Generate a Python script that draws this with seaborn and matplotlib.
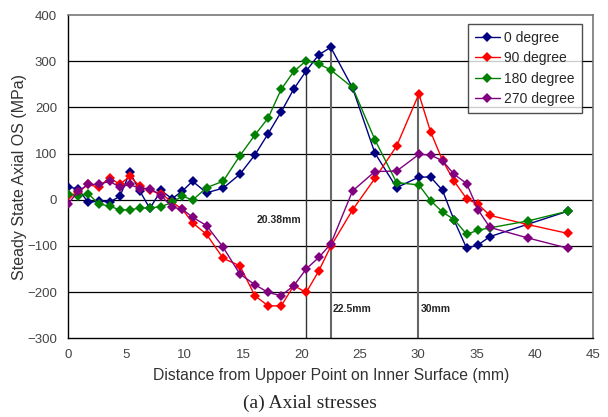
import matplotlib
matplotlib.use("Agg")
import matplotlib.pyplot as plt
import seaborn as sns
import numpy as np
import pandas as pd

# distance along inner surface (mm)
distance = [0, 0.86, 1.71, 2.63, 3.55, 4.43, 5.29, 6.14, 7.0, 7.97, 8.9, 9.8,
            10.66, 11.86, 13.28, 14.71, 16.0, 17.14, 18.25, 19.34, 20.4, 21.48,
            22.5, 24.37, 26.28, 28.14, 30.05, 31.05, 32.08, 33.07, 34.14, 35.12,
            36.13, 39.4, 42.8]

deg0 = [27, 24, -6, -3, -5, 7, 59, 19, -19, 20, 2, 19, 40, 15, 25, 55, 97, 143,
        190, 240, 279, 314, 330, 242, 101, 26, 49, 49, 20, -45, -105, -98, -80,
        np.nan, -25]
deg90 = [7, 16, 33, 27, 48, 33, 51, 29, 20, 13, -5, -21, -50, -75, -127, -143,
         -208, -230, -230, -186, -201, -154, -101, -22, 46, 116, 229, 147, 85, 40,
         2, -10, -34, -54, -73]
deg180 = [13, 7, 13, -9, -14, -22, -22, -18, -18, -15, -6, 8, -1, 26, 40, 95, 140,
          177, 239, 278, 301, 294, 281, 243, 130, 37, 32, -2, -27, -43, -75, -66,
          -61, -46, -25]
deg270 = [-9, 18, 33, 33, 40, 27, 33, 24, 24, 9, -16, -21, -38, -56, -103, -161,
          -184, -201, -208, -186, -150, -125, -96, 19, 61, 62, 98, 97, 84, 55, 35,
          -22, -60, -83, -105]

series_names = ["0 degree", "90 degree", "180 degree", "270 degree"]
colors = ["#000080", "#ff0000", "#008000", "#800080"]

# reference positions marked on the chart
mark_x = [20.38, 22.5, 30]
mark_top = [277, 330, 228]
mark_labels = ["20.38mm", "22.5mm", "30mm"]

frames = []
for name, vals in zip(series_names, [deg0, deg90, deg180, deg270]):
    frames.append(pd.DataFrame({"distance": distance, "stress": vals, "series": name}))
df = pd.concat(frames).dropna()

sns.set_style("white")
plt.rcParams["font.family"] = ["Liberation Sans", "DejaVu Sans"]

fig = plt.figure(figsize=(6.08, 4.17), dpi=100)
ax = fig.add_axes([0.112, 0.189, 0.864, 0.775])

for y in range(-200, 400, 100):
    ax.axhline(y, color="black", lw=0.9, zorder=1)

ax.vlines(mark_x, -300, mark_top, colors=["#333333", "#666666", "#666666"],
          lw=[1.0, 1.5, 1.5], zorder=1)

sns.lineplot(data=df, x="distance", y="stress", hue="series",
             hue_order=series_names, palette=colors, marker="D", markersize=5.5,
             markeredgewidth=0, lw=1, estimator=None, ax=ax, zorder=3)

ax.text(20.0, -45, mark_labels[0], ha="right", va="center", fontsize=7.5,
        fontweight="bold")
ax.text(22.7, -236, mark_labels[1], ha="left", va="center", fontsize=7.5,
        fontweight="bold")
ax.text(30.2, -236, mark_labels[2], ha="left", va="center", fontsize=7.5,
        fontweight="bold")

ax.set_xlim(0, 45)
ax.set_ylim(-300, 400)
ax.set_xticks(range(0, 50, 5))
ax.set_yticks(range(-300, 500, 100))
ax.tick_params(axis="x", direction="in", length=4, width=0.8, pad=8,
               labelsize=9.5, labelcolor="#444444", color="#333333")
ax.tick_params(axis="y", length=0, pad=8, labelsize=9.5, labelcolor="#444444")

for side in ["left", "bottom"]:
    ax.spines[side].set_color("black")
    ax.spines[side].set_linewidth(1.0)
for side in ["top", "right"]:
    ax.spines[side].set_color("#777777")
    ax.spines[side].set_linewidth(1.2)

ax.set_xlabel("Distance from Uppoer Point on Inner Surface (mm)", fontsize=11.3,
              color="#333333", labelpad=5)
ax.set_ylabel("Steady State Axial OS (MPa)", fontsize=11.5, color="#333333",
              labelpad=0)

leg = ax.legend(loc="upper left", bbox_to_anchor=(0.761, 0.972), fontsize=10,
                frameon=True, fancybox=False, edgecolor="#222222",
                handlelength=1.8, borderpad=0.5, labelspacing=0.45,
                handletextpad=0.3, borderaxespad=0)
leg.get_frame().set_linewidth(1.0)

fig.text(0.51, 0.033, "(a) Axial stresses", ha="center", va="center",
         fontsize=14, family=["Liberation Serif", "DejaVu Serif"])

fig.savefig("out.png", dpi=100)
